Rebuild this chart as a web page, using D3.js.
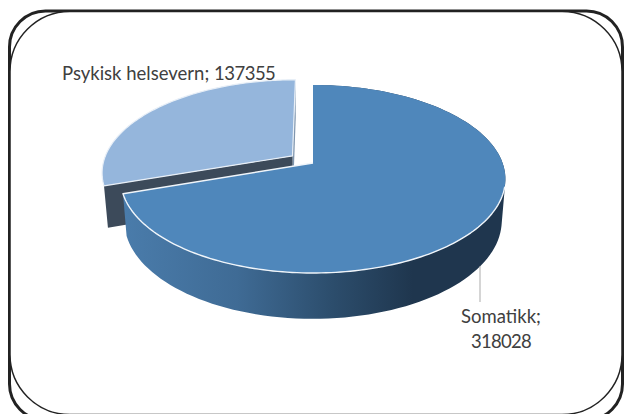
<!DOCTYPE html>
<html><head><meta charset="utf-8">
<script src="https://cdn.jsdelivr.net/npm/d3@7"></script>
<style>html,body{margin:0;padding:0;background:#fff}svg{display:block}</style>
</head><body><svg id="c" width="624" height="414"></svg>
<script>
const categories = ["Somatikk", "Psykisk helsevern"];
const values = [318028, 137355];
const labelLines = [["Somatikk;", "318028"], ["Psykisk helsevern; ", "137355"]];
const topColors = ["#4f87bb", "#95b6dc"];
const cutColor = "#3c4a5a";

const svg = d3.select("#c");
const defs = svg.append("defs");
const grad = defs.append("linearGradient").attr("id","wall").attr("gradientUnits","userSpaceOnUse")
  .attr("x1",122).attr("x2",505).attr("y1",0).attr("y2",0);
[[0,"#4a7cab"],[0.3,"#3f6b95"],[0.55,"#2c4d6c"],[0.76,"#1f364e"],[1,"#1f364e"]]
  .forEach(([o,c])=>grad.append("stop").attr("offset",o).attr("stop-color",c));

const cx=313, p=0.17;
const topPlane={y:163, rx:189.6, ry:91.3}, botPlane={y:204, rx:186, ry:95.3};
function proj(pl,u,v){const d=1-p*v;return [cx+pl.rx*u/d, pl.y+pl.ry*v/d];}
const arcs=d3.pie().sort(null).value(d=>d)(values);
const explode=[0,0.135];
function rim(pl,a,e){const o=e.e;return proj(pl,Math.sin(a)+o*e.u,-Math.cos(a)+o*e.v);}
function apex(pl,e){return proj(pl,e.e*e.u,e.e*e.v);}
const line=d3.line();
function sweep(pl,a0,a1,e){return d3.range(0,121).map(i=>rim(pl,a0+(a1-a0)*i/120,e));}

const ex=arcs.map((d,i)=>{const m=(d.startAngle+d.endAngle)/2;return {e:explode[i],u:Math.sin(m),v:-Math.cos(m)};});

// frame
svg.append("rect").attr("x",9.5).attr("y",11).attr("width",613).attr("height",409).attr("rx",36)
  .attr("fill","#fff").attr("stroke","#222").attr("stroke-width",3);
svg.append("rect").attr("x",10).attr("y",11.5).attr("width",612).attr("height",403).attr("rx",60)
  .attr("fill","#fff").attr("stroke","#222").attr("stroke-width",1.5);

// light slice
{
 const d=arcs[1],e=ex[1];
 const A=d.startAngle,B=d.endAngle;
 svg.append("path").attr("d",line([apex(topPlane,e),rim(topPlane,B,e),rim(botPlane,B,e),apex(botPlane,e)])+"Z").attr("fill","#7f95ad");
 svg.append("path").attr("d",line([apex(topPlane,e),rim(topPlane,A,e),rim(botPlane,A,e),apex(botPlane,e)])+"Z").attr("fill",cutColor);
 svg.append("path").attr("d",line([apex(topPlane,e),...sweep(topPlane,A,B,e)])+"Z")
   .attr("fill",topColors[1]).attr("stroke","#e8eff7").attr("stroke-width",1.2).attr("stroke-linejoin","round");
}
// main slice wall: all quads in one path, same winding, so no seams
{
 const d=arcs[0],e=ex[0];
 const t=sweep(topPlane,d.startAngle,d.endAngle,e),b=sweep(botPlane,d.startAngle,d.endAngle,e);
 const quads=d3.range(t.length-1).map(i=>{
   const q=[t[i],t[i+1],b[i+1],b[i]];
   return d3.polygonArea(q)<0?q.reverse():q;
 });
 svg.append("path").attr("d",quads.map(q=>line(q)+"Z").join(""))
  .attr("fill","url(#wall)").attr("fill-rule","nonzero");
 svg.append("path").attr("d",line([apex(topPlane,e),...t])+"Z")
   .attr("fill",topColors[0]).attr("stroke","none");
 svg.append("path").attr("d",line(sweep(topPlane,Math.PI*0.58,d.endAngle,e).concat([apex(topPlane,e)])))
   .attr("fill","none").attr("stroke","#f0f5fa").attr("stroke-width",1.4).attr("stroke-linejoin","round");
}
// leader
svg.append("line").attr("x1",480).attr("x2",480).attr("y1",266).attr("y2",302).attr("stroke","#ababab").attr("stroke-width",1);
// labels
const font='Lato';
const t0=svg.append("text").attr("text-anchor","middle")
  .attr("font-family",font).attr("font-size",18.5).attr("fill","#404040");
t0.append("tspan").attr("x",501).attr("y",323).text(labelLines[0][0]);
t0.append("tspan").attr("x",501).attr("y",347.5).attr("letter-spacing",-0.7).text(labelLines[0][1]);
const t1=svg.append("text").attr("x",62).attr("y",80).attr("font-family",font).attr("font-size",18.5).attr("fill","#404040");
t1.append("tspan").text(labelLines[1][0]);
t1.append("tspan").attr("letter-spacing",-0.5).text(labelLines[1][1]);
</script></body></html>
